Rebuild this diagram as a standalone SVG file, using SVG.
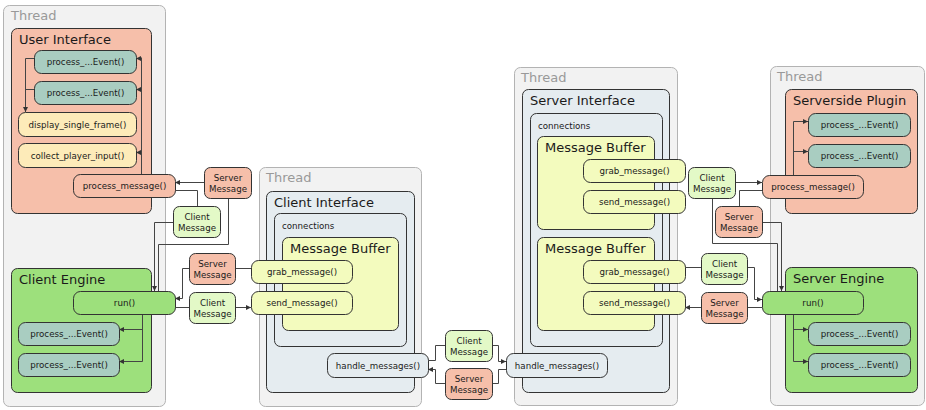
<svg xmlns="http://www.w3.org/2000/svg" width="926" height="410" viewBox="0 0 926 410">
  <defs>
    <marker id="arrow" markerUnits="userSpaceOnUse" markerWidth="6" markerHeight="6" refX="5" refY="2.5" orient="auto">
      <path d="M0,0 L5,2.5 L0,5 z" fill="#333"/>
    </marker>
    <style>
      text { font-family: "DejaVu Sans", Verdana, sans-serif; fill: #1a1a1a; }
      .thread { fill: #f2f2f2; stroke: #b3b3b3; stroke-width: 1; }
      .thread-label { font-size: 13px; fill: #999; }
      .box { stroke: #333; stroke-width: 1; }
      .title { font-size: 13px; }
      .small { font-size: 8.7px; }
      .lbl { font-size: 8.7px; text-anchor: middle; }
      .node { stroke: #333; stroke-width: 1; }
      .salmon { fill: #f6bfaa; }
      .teal { fill: #a9cdc1; }
      .cream { fill: #fdebb9; }
      .green { fill: #9de07c; }
      .lgreen { fill: #e3f9c7; }
      .lemon { fill: #f3fbbe; }
      .slate { fill: #e5ecf0; }
      .wire { fill: none; stroke: #444; stroke-width: 1; }
      .arr { marker-end: url(#arrow); }
    </style>
  </defs>

  <!-- thread frames -->
  <g id="thread-client">
    <rect class="thread" x="3.5" y="5.5" width="162" height="401" rx="6"/>
    <text class="thread-label" x="11" y="20">Thread</text>
  </g>
  <g id="thread-client-interface">
    <rect class="thread" x="259.5" y="167.5" width="162" height="239" rx="6"/>
    <text class="thread-label" x="266" y="182">Thread</text>
  </g>
  <g id="thread-server-interface">
    <rect class="thread" x="514.5" y="67.5" width="163" height="338" rx="6"/>
    <text class="thread-label" x="521" y="82">Thread</text>
  </g>
  <g id="thread-server">
    <rect class="thread" x="770.5" y="66.5" width="154" height="339" rx="6"/>
    <text class="thread-label" x="777" y="81">Thread</text>
  </g>

  <!-- containers -->
  <g id="user-interface">
    <rect class="box salmon" x="11.5" y="28.5" width="140" height="185" rx="6"/>
    <text class="title" x="19" y="44">User Interface</text>
  </g>
  <g id="client-engine">
    <rect class="box green" x="11.5" y="268.5" width="140" height="124" rx="6"/>
    <text class="title" x="19" y="284">Client Engine</text>
  </g>
  <g id="client-interface">
    <rect class="box slate" x="266.5" y="191.5" width="148" height="201" rx="6"/>
    <text class="title" x="274" y="207">Client Interface</text>
  </g>
  <g id="client-connections">
    <rect class="box slate" x="274.5" y="213.5" width="132" height="133" rx="6"/>
    <text class="small" x="282" y="229">connections</text>
  </g>
  <g id="client-buffer">
    <rect class="box lemon" x="282.5" y="237.5" width="116" height="93" rx="6"/>
    <text class="title" x="290" y="253">Message Buffer</text>
  </g>
  <g id="server-interface">
    <rect class="box slate" x="522.5" y="89.5" width="147" height="303" rx="6"/>
    <text class="title" x="530" y="105">Server Interface</text>
  </g>
  <g id="server-connections">
    <rect class="box slate" x="530.5" y="113.5" width="132" height="233" rx="6"/>
    <text class="small" x="538" y="128.5">connections</text>
  </g>
  <g id="server-buffer-1">
    <rect class="box lemon" x="537.5" y="136.5" width="117" height="93" rx="6"/>
    <text class="title" x="545" y="152">Message Buffer</text>
  </g>
  <g id="server-buffer-2">
    <rect class="box lemon" x="537.5" y="237.5" width="117" height="93" rx="6"/>
    <text class="title" x="545" y="253">Message Buffer</text>
  </g>
  <g id="serverside-plugin">
    <rect class="box salmon" x="785.5" y="89.5" width="132" height="124" rx="6"/>
    <text class="title" x="793" y="105">Serverside Plugin</text>
  </g>
  <g id="server-engine">
    <rect class="box green" x="785.5" y="267.5" width="132" height="125" rx="6"/>
    <text class="title" x="793" y="283">Server Engine</text>
  </g>

  <!-- connectors -->
  <g id="connectors">
    <!-- user interface -->
    <path class="wire" d="M34,58.5 H25.5 V89.5 H34"/>
    <path class="wire arr" d="M25.5,89 V112"/>
    <path class="wire" d="M141.5,174 V57.5"/>
    <path class="wire arr" d="M141.5,58.5 H136"/>
    <path class="wire arr" d="M141.5,89.5 H136"/>
    <path class="wire arr" d="M141.5,152.5 H136"/>
    <path class="wire arr" d="M204,182.5 H175"/>
    <path class="wire" d="M175,190.5 H197.5 V206"/>
    <path class="wire arr" d="M173,222.5 H154.5 V291"/>
    <path class="wire" d="M158.5,291 V244.5 H228.5 V198"/>
    <!-- client engine -->
    <path class="wire" d="M142.5,314 V330"/>
    <path class="wire arr" d="M142.5,329.5 H119"/>
    <path class="wire arr" d="M142.5,329 V361.5 H119"/>
    <path class="wire" d="M251,268.5 H235"/>
    <path class="wire arr" d="M189,268.5 H182.5 V298.5 H175"/>
    <path class="wire" d="M175,307.5 H189"/>
    <path class="wire arr" d="M235,307.5 H251"/>
    <!-- between the interfaces -->
    <path class="wire" d="M428,360.5 H435.5 V345.5 H445"/>
    <path class="wire arr" d="M492,345.5 H498.5 V361.5 H506"/>
    <path class="wire" d="M506,369.5 H498.5 V383.5 H492"/>
    <path class="wire arr" d="M445,383.5 H435.5 V369.5 H428"/>
    <!-- serverside plugin -->
    <path class="wire arr" d="M793.5,175 V121.5 H808"/>
    <path class="wire arr" d="M793.5,151.5 H808"/>
    <path class="wire arr" d="M735,182.5 H762"/>
    <path class="wire" d="M777.5,291 V243.5 H712.5 V198"/>
    <path class="wire" d="M762,190.5 H739.5 V206"/>
    <path class="wire arr" d="M762,222.5 H781.5 V291"/>
    <!-- server engine -->
    <path class="wire" d="M685,267.5 H701"/>
    <path class="wire arr" d="M747,267.5 H754.5 V299.5 H762"/>
    <path class="wire" d="M762,307.5 H747"/>
    <path class="wire arr" d="M701,307.5 H685"/>
    <path class="wire arr" d="M793.5,314 V361.5 H808"/>
    <path class="wire arr" d="M793.5,329.5 H808"/>
  </g>

  <!-- user interface nodes -->
  <g id="ui-event-1">
    <rect class="node teal" x="34.5" y="50.5" width="102" height="23" rx="7"/>
    <text class="lbl" x="85.5" y="65">process_...Event()</text>
  </g>
  <g id="ui-event-2">
    <rect class="node teal" x="34.5" y="81.5" width="102" height="23" rx="7"/>
    <text class="lbl" x="85.5" y="96">process_...Event()</text>
  </g>
  <g id="display-single-frame">
    <rect class="node cream" x="18.5" y="112.5" width="118" height="24" rx="7"/>
    <text class="lbl" x="77.5" y="127.5">display_single_frame()</text>
  </g>
  <g id="collect-player-input">
    <rect class="node cream" x="18.5" y="143.5" width="118" height="24" rx="7"/>
    <text class="lbl" x="77.5" y="158.5">collect_player_input()</text>
  </g>
  <g id="ui-process-message">
    <rect class="node salmon" x="73.5" y="174.5" width="102" height="23" rx="7"/>
    <text class="lbl" x="124.5" y="189">process_message()</text>
  </g>
  <g id="msg-server-1">
    <rect class="node salmon" x="204.5" y="167.5" width="47" height="31" rx="6"/>
    <text class="lbl" x="228" y="180.5">Server</text>
    <text class="lbl" x="228" y="191.5">Message</text>
  </g>
  <g id="msg-client-1">
    <rect class="node lgreen" x="173.5" y="206.5" width="47" height="31" rx="6"/>
    <text class="lbl" x="197" y="219.5">Client</text>
    <text class="lbl" x="197" y="230.5">Message</text>
  </g>

  <!-- client engine nodes -->
  <g id="client-run">
    <rect class="node green" x="73.5" y="291.5" width="102" height="23" rx="7"/>
    <text class="lbl" x="124.5" y="306">run()</text>
  </g>
  <g id="ce-event-1">
    <rect class="node teal" x="18.5" y="322.5" width="101" height="23" rx="7"/>
    <text class="lbl" x="69" y="337">process_...Event()</text>
  </g>
  <g id="ce-event-2">
    <rect class="node teal" x="18.5" y="353.5" width="101" height="23" rx="7"/>
    <text class="lbl" x="69" y="368">process_...Event()</text>
  </g>
  <g id="msg-server-2">
    <rect class="node salmon" x="189.5" y="253.5" width="46" height="31" rx="6"/>
    <text class="lbl" x="212.5" y="266.5">Server</text>
    <text class="lbl" x="212.5" y="277.5">Message</text>
  </g>
  <g id="msg-client-2">
    <rect class="node lgreen" x="189.5" y="292.5" width="46" height="31" rx="6"/>
    <text class="lbl" x="212.5" y="305.5">Client</text>
    <text class="lbl" x="212.5" y="316.5">Message</text>
  </g>

  <!-- client interface nodes -->
  <g id="client-grab">
    <rect class="node lemon" x="251.5" y="260.5" width="101" height="23" rx="7"/>
    <text class="lbl" x="302" y="275">grab_message()</text>
  </g>
  <g id="client-send">
    <rect class="node lemon" x="251.5" y="291.5" width="101" height="23" rx="7"/>
    <text class="lbl" x="302" y="306">send_message()</text>
  </g>
  <g id="client-handle">
    <rect class="node slate" x="327.5" y="353.5" width="101" height="24" rx="7"/>
    <text class="lbl" x="378" y="368.5">handle_messages()</text>
  </g>
  <g id="msg-client-3">
    <rect class="node lgreen" x="445.5" y="330.5" width="47" height="31" rx="6"/>
    <text class="lbl" x="469" y="343.5">Client</text>
    <text class="lbl" x="469" y="354.5">Message</text>
  </g>
  <g id="msg-server-3">
    <rect class="node salmon" x="445.5" y="368.5" width="47" height="31" rx="6"/>
    <text class="lbl" x="469" y="381.5">Server</text>
    <text class="lbl" x="469" y="392.5">Message</text>
  </g>

  <!-- server interface nodes -->
  <g id="server-handle">
    <rect class="node slate" x="506.5" y="353.5" width="101" height="24" rx="7"/>
    <text class="lbl" x="557" y="368.5">handle_messages()</text>
  </g>
  <g id="server-grab-1">
    <rect class="node lemon" x="583.5" y="159.5" width="102" height="23" rx="7"/>
    <text class="lbl" x="634.5" y="174">grab_message()</text>
  </g>
  <g id="server-send-1">
    <rect class="node lemon" x="583.5" y="190.5" width="102" height="23" rx="7"/>
    <text class="lbl" x="634.5" y="205">send_message()</text>
  </g>
  <g id="server-grab-2">
    <rect class="node lemon" x="583.5" y="260.5" width="102" height="23" rx="7"/>
    <text class="lbl" x="634.5" y="275">grab_message()</text>
  </g>
  <g id="server-send-2">
    <rect class="node lemon" x="583.5" y="291.5" width="102" height="23" rx="7"/>
    <text class="lbl" x="634.5" y="306">send_message()</text>
  </g>

  <!-- serverside plugin nodes -->
  <g id="msg-client-4">
    <rect class="node lgreen" x="688.5" y="167.5" width="47" height="31" rx="6"/>
    <text class="lbl" x="712" y="180.5">Client</text>
    <text class="lbl" x="712" y="191.5">Message</text>
  </g>
  <g id="msg-server-4">
    <rect class="node salmon" x="715.5" y="206.5" width="47" height="31" rx="6"/>
    <text class="lbl" x="739" y="219.5">Server</text>
    <text class="lbl" x="739" y="230.5">Message</text>
  </g>
  <g id="plugin-process-message">
    <rect class="node salmon" x="762.5" y="175.5" width="101" height="23" rx="7"/>
    <text class="lbl" x="813" y="190">process_message()</text>
  </g>
  <g id="plugin-event-1">
    <rect class="node teal" x="808.5" y="113.5" width="102" height="23" rx="7"/>
    <text class="lbl" x="859.5" y="128">process_...Event()</text>
  </g>
  <g id="plugin-event-2">
    <rect class="node teal" x="808.5" y="144.5" width="102" height="23" rx="7"/>
    <text class="lbl" x="859.5" y="159">process_...Event()</text>
  </g>

  <!-- server engine nodes -->
  <g id="msg-client-5">
    <rect class="node lgreen" x="701.5" y="253.5" width="46" height="31" rx="6"/>
    <text class="lbl" x="724.5" y="266.5">Client</text>
    <text class="lbl" x="724.5" y="277.5">Message</text>
  </g>
  <g id="msg-server-5">
    <rect class="node salmon" x="701.5" y="292.5" width="46" height="31" rx="6"/>
    <text class="lbl" x="724.5" y="305.5">Server</text>
    <text class="lbl" x="724.5" y="316.5">Message</text>
  </g>
  <g id="server-run">
    <rect class="node green" x="762.5" y="291.5" width="101" height="23" rx="7"/>
    <text class="lbl" x="813" y="306">run()</text>
  </g>
  <g id="se-event-1">
    <rect class="node teal" x="808.5" y="322.5" width="102" height="23" rx="7"/>
    <text class="lbl" x="859.5" y="337">process_...Event()</text>
  </g>
  <g id="se-event-2">
    <rect class="node teal" x="808.5" y="353.5" width="102" height="23" rx="7"/>
    <text class="lbl" x="859.5" y="368">process_...Event()</text>
  </g>
</svg>
